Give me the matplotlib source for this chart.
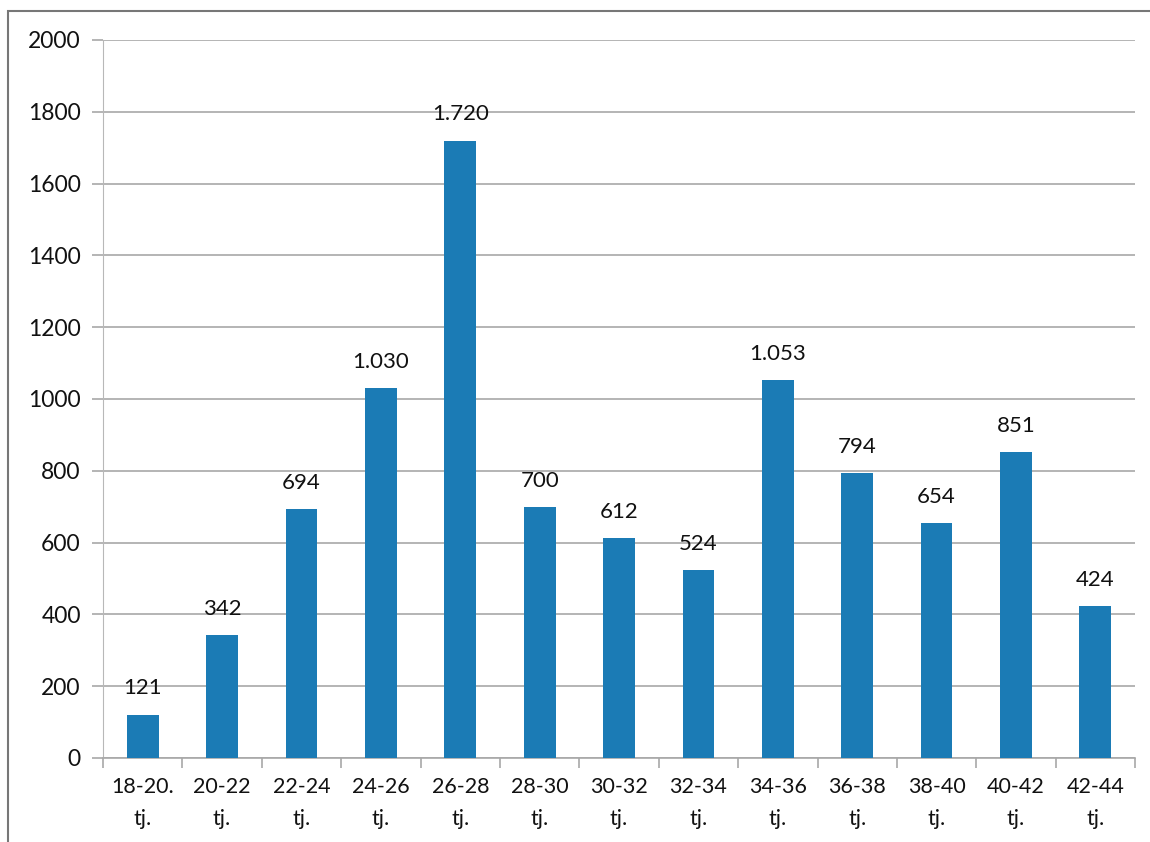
import matplotlib.pyplot as plt
from matplotlib.patches import Rectangle

# Data
categories = ['18-20.\ntj.', '20-22\ntj.', '22-24\ntj.', '24-26\ntj.', '26-28\ntj.',
              '28-30\ntj.', '30-32\ntj.', '32-34\ntj.', '34-36\ntj.', '36-38\ntj.',
              '38-40\ntj.', '40-42\ntj.', '42-44\ntj.']
values = [121, 342, 694, 1030, 1720, 700, 612, 524, 1053, 794, 654, 851, 424]
value_labels = ['121', '342', '694', '1.030', '1.720', '700', '612', '524',
                '1.053', '794', '654', '851', '424']
y_ticks = [0, 200, 400, 600, 800, 1000, 1200, 1400, 1600, 1800, 2000]

plt.rcParams['font.family'] = ['Lato', 'DejaVu Sans']

fig = plt.figure(figsize=(11.5, 8.42), dpi=100)
ax = fig.add_axes([0.0896, 0.0998, 0.8974, 0.8527])

x = range(len(categories))
bars = ax.bar(x, values, width=0.4, color='#1b7bb5', zorder=3)

for b, lab in zip(bars, value_labels):
    ax.text(b.get_x() + b.get_width() / 2, b.get_height() + 45, lab,
            ha='center', va='bottom', fontsize=16, color='#111111')

ax.set_xlim(-0.5, len(categories) - 0.5)
ax.set_ylim(0, 2000)
ax.set_yticks(y_ticks)
ax.set_yticklabels([str(t) for t in y_ticks], fontsize=16.5, color='#111111')
ax.yaxis.grid(True, color='#a8a8a8', linewidth=1.2, zorder=0)

ax.set_xticks(list(x))
ax.set_xticklabels(categories, fontsize=15.5, linespacing=1.75, color='#111111')
ax.tick_params(axis='x', length=0, pad=14)
ax.set_xticks([i - 0.5 for i in range(len(categories) + 1)], minor=True)
ax.tick_params(axis='x', which='minor', length=7, color='#a8a8a8', width=1.2)
ax.tick_params(axis='y', length=8, color='#a8a8a8', width=1.2, pad=8)

for side in ['top', 'right']:
    ax.spines[side].set_visible(False)
ax.spines['left'].set_color('#b8b8b8')
ax.spines['bottom'].set_color('#a8a8a8')
ax.spines['bottom'].set_linewidth(1.2)

# outer chart frame
fig.patches.append(Rectangle((0.007, -0.05), 1.2, 1.037, transform=fig.transFigure,
                             fill=False, edgecolor='#777777', linewidth=1.5))

fig.savefig('out.png', dpi=100)
